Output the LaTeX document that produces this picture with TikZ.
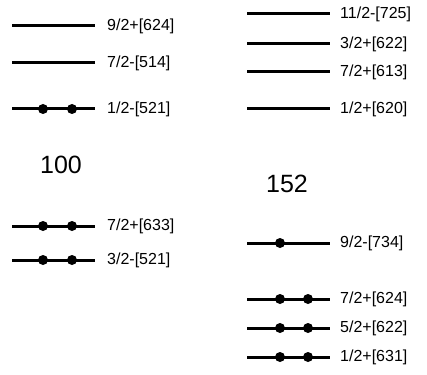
\documentclass[tikz,border=0pt]{standalone}
\usepackage{fontspec}
\setmainfont{Liberation Sans}
\begin{document}
\begin{tikzpicture}[x=1pt,y=-1pt,
  level/.style={line width=3pt},
  lbl/.style={anchor=west,inner sep=0pt,font=\fontsize{16}{18}\selectfont},
  nuc/.style={inner sep=0pt,font=\fontsize{25}{28}\selectfont},
  pair/.style={circle,fill=black,inner sep=0pt,minimum size=10pt}]
\useasboundingbox (0,0) rectangle (427,374);
% left nucleus (100)
\foreach \n/\y/\t/\d in {a/26/9\slash 2+[624]/0, b/63/7\slash 2-[514]/0, c/109/1\slash 2-[521]/2, d/226/7\slash 2+[633]/2, e/260/3\slash 2-[521]/2}{
  \coordinate (L\n s) at (12,\y);
  \coordinate (L\n e) at (95,\y);
  \draw[level] (L\n s) -- (L\n e);
  \node[lbl] (L\n t) at (107,\y) {\t};
  \ifnum\d>0
    \node[pair] (L\n p1) at (43,\y) {};
    \node[pair] (L\n p2) at (72,\y) {};
  \fi
}
\node[nuc] (n100) at (61,165) {100};
% right nucleus (152)
\foreach \n/\y/\t/\d in {a/14/11\slash 2-[725]/0, b/44/3\slash 2+[622]/0, c/72/7\slash 2+[613]/0, d/109/1\slash 2+[620]/0, e/243/9\slash 2-[734]/1, f/299/7\slash 2+[624]/2, g/328/5\slash 2+[622]/2, h/357/1\slash 2+[631]/2}{
  \coordinate (R\n s) at (247,\y);
  \coordinate (R\n e) at (330,\y);
  \draw[level] (R\n s) -- (R\n e);
  \node[lbl] (R\n t) at (340,\y) {\t};
  \ifnum\d>0
    \node[pair] (R\n p1) at (280,\y) {};
  \fi
  \ifnum\d>1
    \node[pair] (R\n p2) at (308,\y) {};
  \fi
}
\node[nuc] (n152) at (287,184) {152};
\end{tikzpicture}
\end{document}
